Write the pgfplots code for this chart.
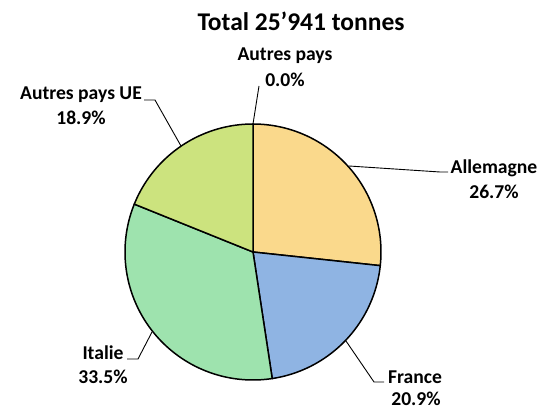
\documentclass[border=0pt]{standalone}
\usepackage{pgfplots}
\pgfplotsset{compat=1.18}
\usepackage{fontspec}
\setmainfont{Carlito}
\definecolor{cAll}{HTML}{FAD98C}
\definecolor{cFra}{HTML}{8FB4E3}
\definecolor{cIta}{HTML}{9EE3AE}
\definecolor{cUE}{HTML}{CCE37E}
% shares in percent
\def\pAll{26.7}
\def\pFra{20.9}
\def\pIta{33.5}
\def\pUE{18.9}
\def\pAut{0.0}
\begin{document}
\begin{tikzpicture}
\pgfmathsetmacro{\aA}{90}
\pgfmathsetmacro{\aB}{\aA-3.6*\pAll}
\pgfmathsetmacro{\aC}{\aB-3.6*\pFra}
\pgfmathsetmacro{\aD}{\aC-3.6*\pIta}
\pgfmathsetmacro{\aE}{\aD-3.6*\pUE}
\begin{axis}[
  scale only axis, width=539pt, height=410pt,
  xmin=0, xmax=539, ymin=0, ymax=410,
  hide axis, clip=false,
  every axis plot/.append style={draw=black, line width=1.5pt, line join=round, samples=120},
  ]
\addplot[fill=cAll, domain=\aB:\aA] ({253+128*cos(x)},{158+128*sin(x)}) -- (axis cs:253,158) -- cycle;
\addplot[fill=cFra, domain=\aC:\aB] ({253+128*cos(x)},{158+128*sin(x)}) -- (axis cs:253,158) -- cycle;
\addplot[fill=cIta, domain=\aD:\aC] ({253+128*cos(x)},{158+128*sin(x)}) -- (axis cs:253,158) -- cycle;
\addplot[fill=cUE, domain=\aE:\aD] ({253+128*cos(x)},{158+128*sin(x)}) -- (axis cs:253,158) -- cycle;
% leader lines
\draw[line width=0.9pt] (axis cs:253,286) -- (axis cs:259,324);
\draw[line width=0.9pt] (axis cs:181,264) -- (axis cs:155,310) -- (axis cs:144,310);
\draw[line width=0.9pt] (axis cs:349,244) -- (axis cs:440,238) -- (axis cs:448,238);
\draw[line width=0.9pt] (axis cs:152,78) -- (axis cs:138,51) -- (axis cs:127,51);
\draw[line width=0.9pt] (axis cs:346,69) -- (axis cs:374,28) -- (axis cs:384,28);
% texts
\node[font=\fontsize{25.5}{30}\selectfont\bfseries] at (axis cs:301,389) {Total 25{\char"0027}941 tonnes};
\tikzset{lab/.style={font=\fontsize{19.6}{23}\selectfont\bfseries, inner sep=0pt}}
\node[lab] at (axis cs:285,354) {Autres pays};
\node[lab] at (axis cs:285,330) {0.0\%};
\node[lab] at (axis cs:81,315) {Autres pays UE};
\node[lab] at (axis cs:81,292) {18.9\%};
\node[lab] at (axis cs:494,242) {Allemagne};
\node[lab] at (axis cs:494,218) {26.7\%};
\node[lab] at (axis cs:103,57) {Italie};
\node[lab] at (axis cs:103,33) {33.5\%};
\node[lab] at (axis cs:415,33) {France};
\node[lab] at (axis cs:416,11) {20.9\%};
\end{axis}
\pgfresetboundingbox
\path[use as bounding box] (0,0) rectangle (539pt,410pt);
\end{tikzpicture}
\end{document}
